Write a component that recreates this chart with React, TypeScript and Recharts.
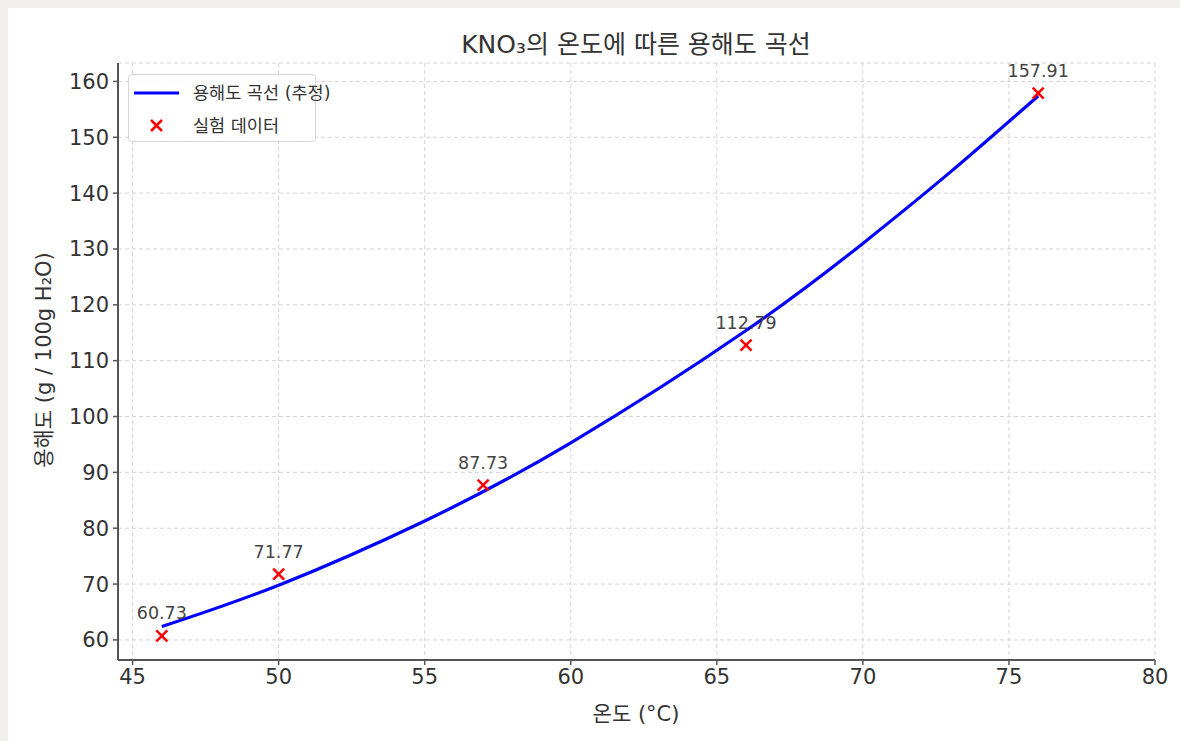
import React from 'react';
import { ComposedChart, Line, Scatter, XAxis, YAxis, CartesianGrid, LabelList } from 'recharts';

const FONT = "'DejaVu Sans', 'Noto Sans CJK KR', sans-serif";

const titleText = 'KNO₃의 온도에 따른 용해도 곡선';
const xLabelText = '온도 (°C)';
const yLabelText = '용해도 (g / 100g H₂O)';
const lineName = '용해도 곡선 (추정)';
const scatterName = '실험 데이터';

// measured points
const measuredTemps = [46, 50, 57, 66, 76];
const measuredSolubility = [60.73, 71.77, 87.73, 112.79, 157.91];

// fitted curve
const curveTemps = [46, 50, 55, 60, 66, 70, 73, 76];
const curveSolubility = [62.4, 69.8, 81.3, 95.3, 115.4, 131.0, 143.8, 157.4];

const xTicks = [45, 50, 55, 60, 65, 70, 75, 80];
const yTicks = [60, 70, 80, 90, 100, 110, 120, 130, 140, 150, 160];

const lineData = curveTemps.map((x, i) => ({ x, y: curveSolubility[i] }));
const scatterData = measuredTemps.map((x, i) => ({ x, y: measuredSolubility[i] }));

const XMark = (props: any) => {
  const { cx, cy } = props;
  const s = 5.5;
  return (
    <path
      d={`M${cx - s},${cy - s}L${cx + s},${cy + s}M${cx - s},${cy + s}L${cx + s},${cy - s}`}
      stroke="#ff0000"
      strokeWidth={2.5}
      fill="none"
    />
  );
};

const LegendBox = () => (
  <div
    style={{
      position: 'absolute',
      left: 120,
      top: 66,
      width: 188,
      height: 68,
      border: '1px solid #d6d6d6',
      borderRadius: 4,
      background: 'rgba(255,255,255,0.85)',
      fontFamily: FONT,
      fontSize: 17.5,
      color: '#333',
      boxSizing: 'border-box',
    }}
  >
    <svg width={60} height={66} style={{ position: 'absolute', left: 0, top: 0 }}>
      <line x1={5} x2={50} y1={18} y2={18} stroke="#0000ff" strokeWidth={3} />
      <path d="M22,45L33,56M22,56L33,45" stroke="#ff0000" strokeWidth={2.5} fill="none" />
    </svg>
    <div style={{ position: 'absolute', left: 64, top: 6, whiteSpace: 'nowrap', lineHeight: '24px' }}>{lineName}</div>
    <div style={{ position: 'absolute', left: 64, top: 39, whiteSpace: 'nowrap', lineHeight: '24px' }}>{scatterName}</div>
  </div>
);

export default function App() {
  return (
    <div style={{ position: 'absolute', left: 0, top: 0, width: 1180, height: 741, background: '#f0efeb', overflow: 'hidden' }}>
      <div style={{ position: 'absolute', left: 8, top: 8, width: 1172, height: 733, background: '#ffffff' }}>
        <ComposedChart
          width={1172}
          height={733}
          margin={{ top: 55, right: 25, bottom: 0, left: 0 }}
          style={{ fontFamily: FONT }}
        >
          <CartesianGrid stroke="#d4d4d4" strokeDasharray="4 3" strokeWidth={1} />
          <XAxis
            type="number"
            dataKey="x"
            domain={[44.5, 80]}
            ticks={xTicks}
            allowDataOverflow
            height={81}
            axisLine={{ stroke: '#555', strokeWidth: 2 }}
            tickLine={{ stroke: '#555', strokeWidth: 1.5 }}
            tickSize={5}
            tickMargin={4}
            tick={{ fill: '#333', fontSize: 21, fontFamily: FONT }}
          />
          <YAxis
            type="number"
            dataKey="y"
            domain={[56.4, 163.3]}
            ticks={yTicks}
            allowDataOverflow
            width={110}
            axisLine={{ stroke: '#555', strokeWidth: 2 }}
            tickLine={{ stroke: '#555', strokeWidth: 1.5 }}
            tickSize={5}
            tickMargin={4}
            tick={{ fill: '#333', fontSize: 21, fontFamily: FONT }}
          />
          <Line
            data={lineData}
            dataKey="y"
            name={lineName}
            type="natural"
            stroke="#0000ff"
            strokeWidth={3.2}
            dot={false}
            activeDot={false}
            isAnimationActive={false}
          />
          <Scatter
            data={scatterData}
            dataKey="y"
            name={scatterName}
            shape={<XMark />}
            isAnimationActive={false}
          >
            <LabelList
              dataKey="y"
              position="top"
              offset={12}
              style={{ fill: '#444', fontSize: 17.5, fontFamily: FONT }}
              formatter={(v: any) => Number(v).toFixed(2)}
            />
          </Scatter>
        </ComposedChart>
        <LegendBox />
        <div
          style={{
            position: 'absolute',
            left: 628,
            top: 34,
            transform: 'translate(-50%, -50%)',
            whiteSpace: 'nowrap',
            fontFamily: FONT,
            fontSize: 25,
            color: '#333',
          }}
        >
          {titleText}
        </div>
        <div
          style={{
            position: 'absolute',
            left: 628,
            top: 704,
            transform: 'translate(-50%, -50%)',
            whiteSpace: 'nowrap',
            fontFamily: FONT,
            fontSize: 21,
            color: '#333',
          }}
        >
          {xLabelText}
        </div>
        <div
          style={{
            position: 'absolute',
            left: 34,
            top: 352,
            transform: 'translate(-50%, -50%) rotate(-90deg)',
            whiteSpace: 'nowrap',
            fontFamily: FONT,
            fontSize: 21,
            color: '#333',
          }}
        >
          {yLabelText}
        </div>
      </div>
    </div>
  );
}
